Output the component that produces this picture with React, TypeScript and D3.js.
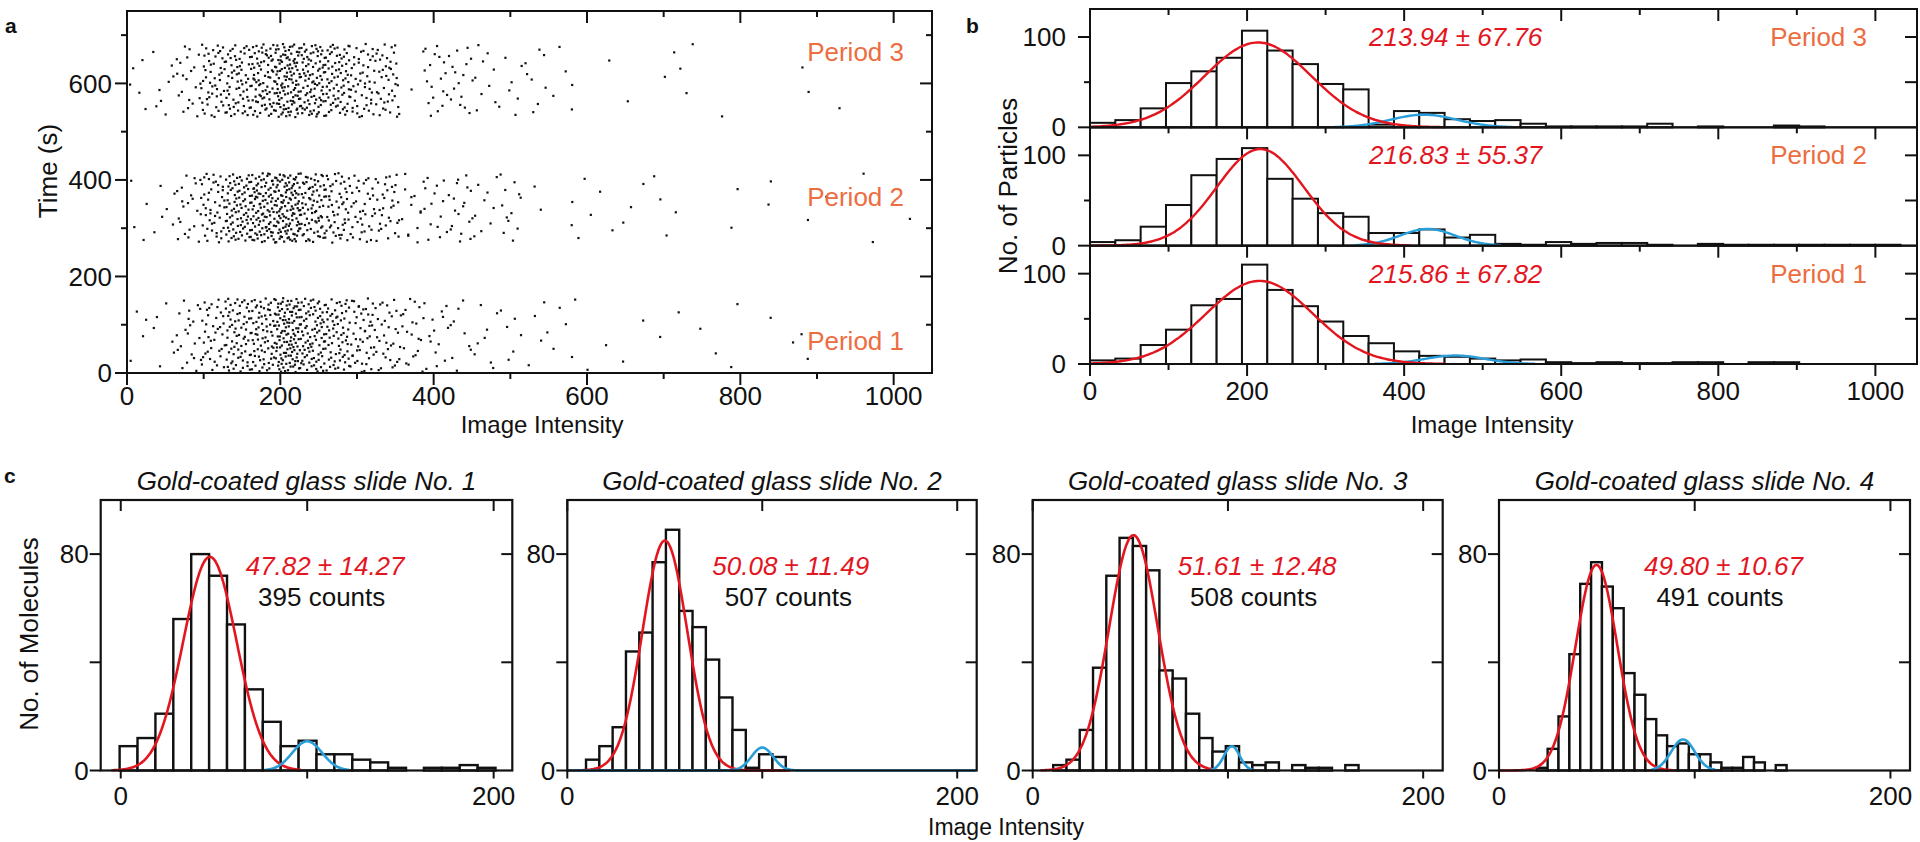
import React from 'react';
import * as d3 from 'd3';

const FONT = '"Liberation Sans", Arial, Helvetica, sans-serif';
const RED = '#e3161f';
const BLUE = '#2a9ed8';
const ORANGE = '#ec6d3f';

// ---- panel b : histogram counts, bins of 32.25 starting at 0 ----
const bBinWidth = 32.25;
const period3Counts = [5, 8, 21, 49, 62, 77, 107, 85, 70, 48, 42, 3, 18, 16, 9, 7, 8, 4, 1, 1, 1, 1, 4, 0, 1, 0, 0, 2, 1];
const period2Counts = [4, 6, 21, 45, 78, 96, 108, 74, 52, 36, 32, 14, 14, 18, 9, 12, 2, 1, 4, 2, 3, 3, 1, 0, 2, 1, 1, 1, 1, 1, 1, 1];
const period1Counts = [4, 6, 21, 38, 65, 72, 110, 82, 64, 47, 31, 23, 14, 9, 8, 6, 4, 5, 2, 1, 2, 1, 1, 2, 2, 0, 2, 2];
const periodCounts = [period3Counts, period2Counts, period1Counts];
const periodNames = ['Period 3', 'Period 2', 'Period 1'];
// time window (s) of each period in panel a
const periodTimeLo = [530, 270, 2];
const periodTimeHi = [682, 414, 155];
const bFitLabels = ['213.94 ± 67.76', '216.83 ± 55.37', '215.86 ± 67.82'];
const bRedMean = [213.94, 216.83, 215.86];
const bRedSd = [67.76, 55.37, 67.82];
const bRedAmp = [94, 107, 92];
const bBlueMean = [425, 430, 465];
const bBlueSd = [42, 35, 38];
const bBlueAmp = [14, 18.5, 9.4];

// ---- panel c ----
const cTitles = [
  'Gold-coated glass slide No. 1',
  'Gold-coated glass slide No. 2',
  'Gold-coated glass slide No. 3',
  'Gold-coated glass slide No. 4',
];
const cBinStart = [-0.6, 9.6, 10.5, 19.3];
const cBinWidth = [9.6, 6.83, 6.8, 5.55];
const slide1Counts = [9, 12, 21, 56, 80, 72, 54, 30, 18, 9, 11, 6, 6, 4, 3, 1, 0, 1, 1, 2, 1];
const slide2Counts = [4, 9, 16, 44, 51, 77, 89, 59, 53, 41, 27, 15, 1, 6, 5];
const slide3Counts = [2, 4, 15, 38, 72, 86, 83, 74, 37, 34, 21, 12, 7, 9, 3, 2, 3, 0, 2, 1, 1, 0, 2];
const slide4Counts = [1, 8, 20, 43, 69, 77, 68, 60, 36, 28, 19, 13, 9, 10, 6, 6, 3, 1, 1, 5, 3, 0, 2];
const cCounts = [slide1Counts, slide2Counts, slide3Counts, slide4Counts];
const cFitLabels = ['47.82 ± 14.27', '50.08 ± 11.49', '51.61 ± 12.48', '49.80 ± 10.67'];
const cCountLabels = ['395 counts', '507 counts', '508 counts', '491 counts'];
const cRedMean = [47.82, 50.08, 51.61, 49.8];
const cRedSd = [14.27, 11.49, 12.48, 10.67];
const cRedAmp = [79, 85, 87, 76];
const cRedLo = [-5, 0, 4, 0];
const cRedHi = [97, 115, 94, 90];
const cBlueMean = [100, 100, 102, 94];
const cBlueSd = [8, 5.5, 4, 6];
const cBlueAmp = [10.8, 8.5, 9, 11.5];
const cBlueLo = [77, 0, 91, 78];
const cBlueHi = [123, 210, 113, 111];
const cXMin = [-10.75, 0, 0, 0];
const cLeft = [100.7, 567.3, 1032.7, 1499];
const cRight = [512.3, 976.7, 1442.7, 1910];

const gauss = (x: number, m: number, s: number, a: number) => a * Math.exp(-((x - m) ** 2) / (2 * s * s));

// fixed low-discrepancy layout of the dots inside a histogram bin
const halton = (i: number, b: number) => {
  let f = 1, r = 0;
  while (i > 0) { f /= b; r += f * (i % b); i = Math.floor(i / b); }
  return r;
};

function vTicks(sx: any, vals: number[], y: number, len: number, key: string) {
  return vals.map(v => <line key={key + v} x1={sx(v)} x2={sx(v)} y1={y} y2={y + len} stroke="#111" strokeWidth={2} />);
}
function hTicks(sy: any, vals: number[], x: number, len: number, key: string) {
  return vals.map(v => <line key={key + v} x1={x} x2={x + len} y1={sy(v)} y2={sy(v)} stroke="#111" strokeWidth={2} />);
}

function PanelA() {
  const x = d3.scaleLinear().domain([0, 1050]).range([127, 932]);
  const y = d3.scaleLinear().domain([0, 750]).range([373, 11]);
  const dots: { x: number; t: number }[] = [];
  periodCounts.forEach((counts, p) => {
    let k = 1 + p * 977;
    counts.forEach((c, j) => {
      for (let n = 0; n < c; n++, k++) {
        dots.push({
          x: (j + halton(k, 2)) * bBinWidth,
          t: periodTimeLo[p] + halton(k, 3) * (periodTimeHi[p] - periodTimeLo[p]),
        });
      }
    });
  });
  const major = d3.range(0, 1001, 200);
  const minor = d3.range(100, 1001, 200);
  const yMajor = d3.range(0, 601, 200);
  const yMinor = d3.range(100, 701, 200);
  return (
    <g>
      {dots.map((d, i) => <rect key={i} x={x(d.x) - 1.1} y={y(d.t) - 1.1} width={2.2} height={2.2} fill="#111" />)}
      <rect x={127} y={11} width={805} height={362} fill="none" stroke="#111" strokeWidth={2} />
      {vTicks(x, major, 373, 12, 'ab')}
      {vTicks(x, minor, 373, 6, 'abm')}
      {vTicks(x, major, 11, 12, 'at')}
      {vTicks(x, minor, 11, 6, 'atm')}
      {hTicks(y, yMajor, 127, -12, 'al')}
      {hTicks(y, yMinor, 127, -6, 'alm')}
      {hTicks(y, yMajor, 932, -12, 'ar')}
      {hTicks(y, yMinor, 932, -6, 'arm')}
      {major.map(v => <text key={'axl' + v} x={x(v)} y={405} fontSize={26} textAnchor="middle">{v}</text>)}
      {yMajor.map(v => <text key={'ayl' + v} x={112} y={y(v)} dy="0.35em" fontSize={26} textAnchor="end">{v}</text>)}
      <text x={542} y={433} fontSize={24} textAnchor="middle">Image Intensity</text>
      <text transform="translate(57,171) rotate(-90)" fontSize={26} textAnchor="middle">Time (s)</text>
      {periodNames.map((n, p) => (
        <text key={n} x={904} y={[61, 206, 350][p]} fontSize={26} fill={ORANGE} textAnchor="end">{n}</text>
      ))}
    </g>
  );
}

function PanelB() {
  const x = d3.scaleLinear().domain([0, 1053]).range([1090, 1917]);
  const h = (364 - 9) / 3;
  const major = d3.range(0, 1001, 200);
  const minor = d3.range(100, 1001, 200);
  return (
    <g>
      {periodCounts.map((counts, p) => {
        const top = 9 + p * h;
        const y = d3.scaleLinear().domain([0, 131]).range([top + h, top]);
        const red = d3.line<number>().x(v => x(v)).y(v => y(gauss(v, bRedMean[p], bRedSd[p], bRedAmp[p])))
          .curve(d3.curveBasis)(d3.range(0, bRedMean[p] + 3.5 * bRedSd[p], 3));
        const bl = bBlueMean[p] - 2.7 * bBlueSd[p];
        const blue = d3.line<number>().x(v => x(v)).y(v => y(gauss(v, bBlueMean[p], bBlueSd[p], bBlueAmp[p])))
          .curve(d3.curveBasis)(d3.range(bl, bBlueMean[p] + 2.7 * bBlueSd[p], 2));
        return (
          <g key={p}>
            {counts.map((c, j) => c > 0 && (
              <rect key={j} x={x(j * bBinWidth)} y={y(c)} width={x((j + 1) * bBinWidth) - x(j * bBinWidth)}
                height={y(0) - y(c)} fill="#fff" stroke="#111" strokeWidth={2} />
            ))}
            <path d={blue || ''} fill="none" stroke={BLUE} strokeWidth={2.4} />
            <path d={red || ''} fill="none" stroke={RED} strokeWidth={2.4} />
            <rect x={1090} y={top} width={827} height={h} fill="none" stroke="#111" strokeWidth={2} />
            {vTicks(x, major, top, 12, 'bt' + p)}
            {vTicks(x, minor, top, 6, 'btm' + p)}
            {hTicks(y, [0, 100], 1090, -12, 'bl' + p)}
            {hTicks(y, [50], 1090, -6, 'blm' + p)}
            {hTicks(y, [50, 100], 1917, -12, 'br' + p)}
            {[0, 100].map(v => <text key={'byl' + v} x={1066} y={y(v)} dy="0.35em" fontSize={26} textAnchor="end">{v}</text>)}
            <text x={1369} y={top + 37} fontSize={26} fontStyle="italic" fill={RED}>{bFitLabels[p]}</text>
            <text x={1867} y={top + 37} fontSize={26} fill={ORANGE} textAnchor="end">{periodNames[p]}</text>
          </g>
        );
      })}
      {vTicks(x, major, 364, 12, 'bb')}
      {vTicks(x, minor, 364, 6, 'bbm')}
      {major.map(v => <text key={'bxl' + v} x={x(v)} y={400} fontSize={26} textAnchor="middle">{v}</text>)}
      <text x={1492} y={433} fontSize={24} textAnchor="middle">Image Intensity</text>
      <text transform="translate(1017,186) rotate(-90)" fontSize={26} textAnchor="middle">No. of Particles</text>
    </g>
  );
}

function PanelC({ i }: { i: number }) {
  const x = d3.scaleLinear().domain([cXMin[i], 210]).range([cLeft[i], cRight[i]]);
  const y = d3.scaleLinear().domain([0, 100]).range([770.5, 500]);
  const red = d3.line<number>().x(v => x(v)).y(v => y(gauss(v, cRedMean[i], cRedSd[i], cRedAmp[i])))
    .curve(d3.curveBasis)(d3.range(cRedLo[i], cRedHi[i], 0.5));
  const blue = d3.line<number>().x(v => x(v)).y(v => y(gauss(v, cBlueMean[i], cBlueSd[i], cBlueAmp[i])))
    .curve(d3.curveBasis)(d3.range(cBlueLo[i], cBlueHi[i], 0.5));
  const w = cBinWidth[i];
  const fitX = cLeft[i] + 145;
  const mid = (cLeft[i] + cRight[i]) / 2;
  return (
    <g>
      <text x={mid} y={490} fontSize={26} fontStyle="italic" textAnchor="middle">{cTitles[i]}</text>
      {cCounts[i].map((c, j) => c > 0 && (
        <rect key={j} x={x(cBinStart[i] + j * w)} y={y(c)} width={x(cBinStart[i] + (j + 1) * w) - x(cBinStart[i] + j * w)}
          height={y(0) - y(c)} fill="#fff" stroke="#111" strokeWidth={2.4} />
      ))}
      <path d={red || ''} fill="none" stroke={RED} strokeWidth={2.6} />
      <path d={blue || ''} fill="none" stroke={BLUE} strokeWidth={2.6} />
      <rect x={cLeft[i]} y={500} width={cRight[i] - cLeft[i]} height={270.5} fill="none" stroke="#111" strokeWidth={2.2} />
      {vTicks(x, [0, 100, 200], 770.5, 8, 'cb' + i)}
      {vTicks(x, [0, 100, 200], 500, 11, 'ct' + i)}
      {hTicks(y, [0, 40, 80], cLeft[i], -11, 'cl' + i)}
      {hTicks(y, [40, 80], cRight[i], -11, 'cr' + i)}
      {[0, 200].map(v => <text key={'cxl' + v} x={x(v)} y={805} fontSize={26} textAnchor="middle">{v}</text>)}
      {[0, 80].map(v => <text key={'cyl' + v} x={cLeft[i] - 12} y={y(v)} dy="0.35em" fontSize={26} textAnchor="end">{v}</text>)}
      <text x={fitX} y={575} fontSize={26} fontStyle="italic" fill={RED}>{cFitLabels[i]}</text>
      <text x={fitX + 76} y={606} fontSize={26} textAnchor="middle">{cCountLabels[i]}</text>
    </g>
  );
}

export default function App() {
  return (
    <svg width={1920} height={842} style={{ position: 'absolute', left: 0, top: 0, background: '#fff' }}
      fontFamily={FONT} fill="#111">
      <PanelA />
      <PanelB />
      {cTitles.map((t, i) => <PanelC key={t} i={i} />)}
      <text transform="translate(38,634) rotate(-90)" fontSize={26} textAnchor="middle">No. of Molecules</text>
      <text x={1006} y={835} fontSize={23} textAnchor="middle">Image Intensity</text>
      <text x={5} y={33} fontSize={21} fontWeight="bold">a</text>
      <text x={966} y={33} fontSize={21} fontWeight="bold">b</text>
      <text x={4} y={483} fontSize={21} fontWeight="bold">c</text>
    </svg>
  );
}
